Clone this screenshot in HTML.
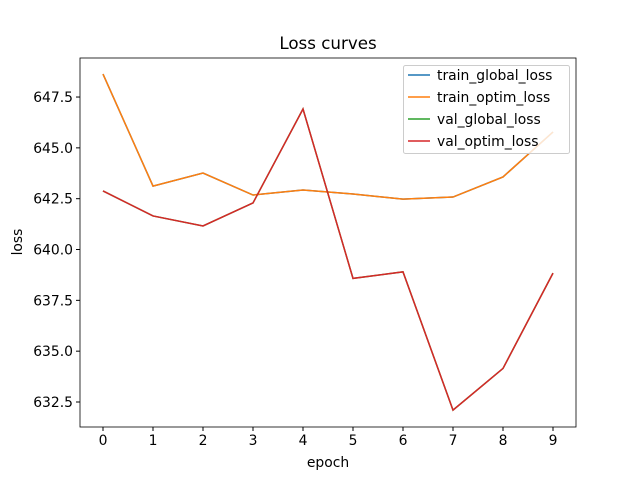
<!DOCTYPE html>
<html><head><meta charset="utf-8"><style>body{margin:0;background:#fff}svg{font-family:"DejaVu Sans","Liberation Sans",sans-serif}</style></head>
<body>
<svg id="c" width="640" height="480" xmlns="http://www.w3.org/2000/svg"></svg>
<script>
const epochs=[0,1,2,3,4,5,6,7,8,9];
const trainGlobal=[648.63,643.12,643.76,642.68,642.93,642.73,642.48,642.58,643.57,645.78];
const trainOptim=[648.63,643.12,643.76,642.68,642.93,642.73,642.48,642.58,643.57,645.78];
const valGlobal=[642.88,641.65,641.16,642.29,646.91,638.58,638.9,632.1,634.15,638.84];
const valOptim=[642.88,641.65,641.16,642.29,646.91,638.58,638.9,632.1,634.15,638.84];
const yTicks=[632.5,635.0,637.5,640.0,642.5,645.0,647.5];
const seriesNames=["train_global_loss","train_optim_loss","val_global_loss","val_optim_loss"];
const colors=["#1f77b4","#ff7f0e","#2ca02c","#d62728"];
const L=80,R=576,T=58,B=427;
const yMin=631.27,yMax=649.42;
const X=v=>103+(v-0)*50;
const Y=v=>B-(v-yMin)/(yMax-yMin)*(B-T);
const s=document.getElementById('c');const NS="http://www.w3.org/2000/svg";
function el(t,a,txt){const e=document.createElementNS(NS,t);for(const k in a)e.setAttribute(k,a[k]);if(txt!==undefined)e.textContent=txt;s.appendChild(e);return e;}
let e;
e=el('text',{x:328,y:49,'font-size':16.7,'text-anchor':'middle'},'Loss curves');


epochs.forEach(v=>{el('line',{x1:X(v),x2:X(v),y1:B,y2:B+4,stroke:'#000'});
 e=el('text',{x:X(v),y:B+18,'font-size':13.9,'text-anchor':'middle'},String(v));
 
 });
yTicks.forEach(v=>{el('line',{x1:L-4,x2:L,y1:Y(v),y2:Y(v),stroke:'#000'});
 e=el('text',{x:L-7,y:Y(v)+5,'font-size':13.9,'text-anchor':'end'},v.toFixed(1));
 
 });
e=el('text',{x:328,y:467,'font-size':13.9,'text-anchor':'middle'},'epoch');


e=el('text',{x:22,y:242,'font-size':13.9,'text-anchor':'middle',transform:'rotate(-90 22 242)'},'loss');


[trainGlobal,trainOptim,valGlobal,valOptim].forEach((d,i)=>{
 e=el('polyline',{points:d.map((v,j)=>X(epochs[j])+','+Y(v)).join(' '),fill:'none',stroke:colors[i],'stroke-width':1.5});
 
 });
e=el('rect',{x:L,y:T,width:R-L,height:B-T,fill:'none',stroke:'#000','stroke-width':0.8});


e=el('rect',{x:403.5,y:65.5,width:166,height:88,fill:'#fff','fill-opacity':0.8,stroke:'#ccc',rx:2});


seriesNames.forEach((n,i)=>{const y=75+i*22;
 el('line',{x1:408,x2:430,y1:y,y2:y,stroke:colors[i],'stroke-width':1.5});
 e=el('text',{x:437,y:y+5,'font-size':13.9},n);
 
 });
</script>
</body></html>
